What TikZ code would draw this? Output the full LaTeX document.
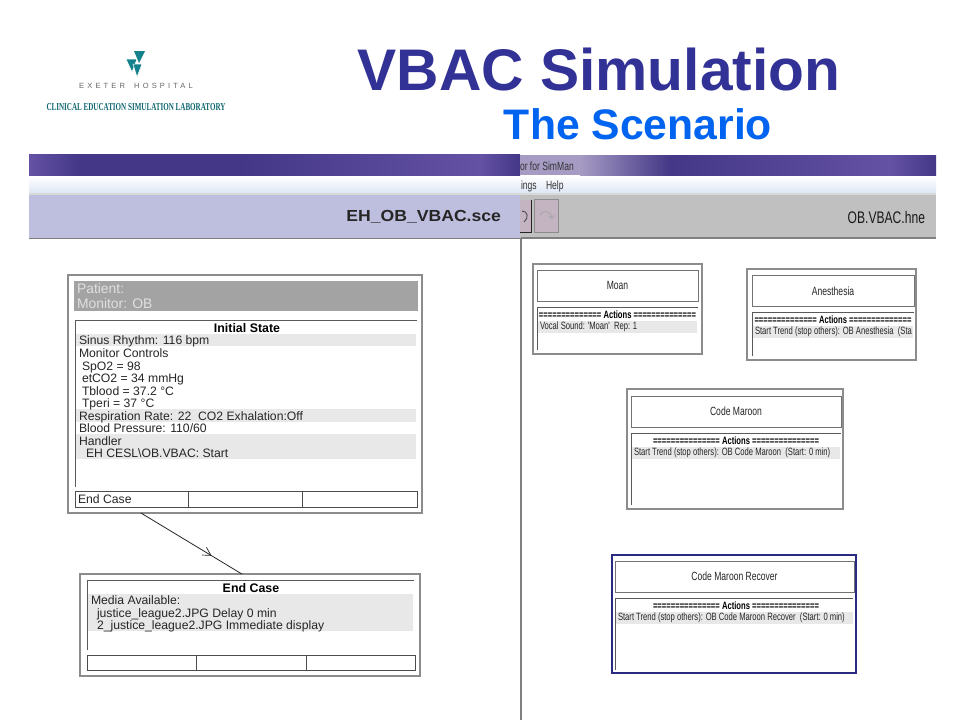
\documentclass[tikz,border=0pt]{standalone}
\usepackage{fontspec}
\usepackage{xcolor}
\usetikzlibrary{calc,arrows.meta,decorations.markings}
\setmainfont{Liberation Sans}
\newfontfamily\narrowfont[FakeStretch=0.72]{Liberation Sans}
\newfontfamily\widefont[FakeStretch=1.1]{Liberation Sans}
\newfontfamily\labfont[FakeStretch=0.667]{Liberation Serif}
\definecolor{titleblue}{RGB}{50,50,150}
\definecolor{subblue}{RGB}{0,100,240}
\definecolor{logoteal}{RGB}{20,130,140}
\definecolor{barpurple}{RGB}{68,55,135}
\definecolor{barmid}{RGB}{100,82,165}
\definecolor{barlight}{RGB}{165,155,195}
\definecolor{lavender}{RGB}{190,190,222}
\definecolor{toolgray}{RGB}{192,192,192}
\definecolor{toolpink}{RGB}{196,180,194}
\definecolor{menublue}{RGB}{222,230,245}
\definecolor{framegray}{RGB}{140,140,140}
\definecolor{bandgray}{RGB}{232,232,232}

\begin{document}
\begin{tikzpicture}[x=1pt,y=-1pt]
    \tikzstyle{every node}=[inner sep=0pt,outer sep=0pt]
    \tikzstyle{outerbox}=[draw=framegray,line width=1.3pt,fill=white]
    \tikzstyle{cellbox}=[draw=black!70,line width=0.9pt]
    \tikzstyle{rowtext}=[anchor=west,text height=10pt,text depth=2pt,font={\fontsize{12.2}{13}\selectfont},text=black!85]
    \tikzstyle{headtext}=[font={\fontsize{12.4}{13}\selectfont\bfseries}]
    \tikzstyle{actiontext}=[anchor=west,font={\narrowfont\fontsize{10.6}{12}\selectfont},text=black!85]
    \tikzstyle{actionhead}=[font={\narrowfont\fontsize{10.6}{12}\selectfont\bfseries}]
    \tikzstyle{listedge}=[draw=black!65,line width=1pt]
    \tikzstyle{band}=[fill=bandgray]
    \tikzstyle{wintext}=[anchor=west,font={\narrowfont\fontsize{11.9}{13}\selectfont},text=black!80]

    \useasboundingbox (0,0) rectangle (960,720);
    \fill[white] (0,0) rectangle (960,720);

    % logo and titles
    \fill[logoteal] (134,51) -- (145,51) -- (139,63) -- cycle;
    \fill[logoteal,draw=white,line width=0.5pt] (126,59) -- (137,59) -- (132,72) -- cycle;
    \fill[logoteal,draw=white,line width=0.5pt] (133,64) -- (142,64) -- (137,77) -- cycle;
    \node[text=black!60,font={\fontsize{7.5}{8}\selectfont\addfontfeature{LetterSpace=42}}] (hospital) at (136,86) {EXETER\hspace{4pt} HOSPITAL};
    \node[text=logoteal!80!black,font={\labfont\fontsize{10.6}{11}\selectfont\bfseries}] (lab) at (136,107.5) {CLINICAL EDUCATION SIMULATION LABORATORY};
    \node[text=titleblue,font={\fontsize{58.7}{60}\selectfont\bfseries}] (title) at (599,70) {VBAC Simulation};
    \node[text=subblue,font={\fontsize{42.7}{44}\selectfont\bfseries}] (subtitle) at (638,124) {The Scenario};

    % window bars
    \shade[left color=barmid,right color=barpurple] (29,154) rectangle (80,175);
    \shade[left color=barpurple,right color=barpurple] (80,154) rectangle (240,175);
    \shade[left color=barpurple,right color=barmid] (240,154) rectangle (480,175);
    \shade[left color=barmid,right color=barpurple] (480,154) rectangle (520,175);
    \fill[barlight] (520,155) rectangle (580,175);
    \shade[left color=barlight,right color=barpurple] (580,155) rectangle (670,175);
    \shade[left color=barpurple,right color=barmid] (670,155) rectangle (890,175);
    \shade[left color=barmid,right color=barpurple] (890,155) rectangle (936,175);
    \shade[top color=white,bottom color=menublue] (29,176) rectangle (936,193);
    \fill[black!15] (29,193) rectangle (936,195);
    \fill[toolgray] (520,195) rectangle (936,238);
    \fill[lavender] (29,195) rectangle (520,238);
    \draw[black!50,line width=1.2pt] (29,238.5) -- (520,238.5);
    \draw[black!50,line width=1.2pt] (521,238) -- (936,238);
    \draw[black!50,line width=1.2pt] (521,238) -- (521,720);
    \node[wintext] (wintitle) at (520,166) {or for SimMan};
    \node[wintext] (menusettings) at (521,186) {ings};
    \node[wintext] (menuhelp) at (546,186) {Help};
    \node[font={\widefont\fontsize{16}{17}\selectfont\bfseries},anchor=east,text=black!85] (scefile) at (501,217) {EH\_OB\_VBAC.sce};
    \node[font={\narrowfont\fontsize{16.8}{18}\selectfont},anchor=east,text=black!90] (hnefile) at (925,217) {OB.VBAC.hne};
    \node[fill=toolpink,minimum width=11pt,minimum height=33pt,anchor=west] (undobtn) at (520,216) {};
    \draw[black!85,line width=1pt] (undobtn.north east) -- (undobtn.south east) -- (undobtn.south west);
    \draw[black!75,line width=0.8pt] (522,211) .. controls (528,211) and (529,218) .. (524,222);
    \node[draw=black!45,fill=toolpink,minimum width=24pt,minimum height=33pt] (redobtn) at (546,216) {};
    \draw[black!35,line width=0.8pt,-{Straight Barb[length=3pt]}] (540,215) .. controls (544,209) and (551,211) .. (552,219);

    % scenario boxes
    \node[outerbox,minimum width=354pt,minimum height=238pt] (initial) at (245,394) {};
    \fill[black!36] (74,281) rectangle (418,311);
    \node[rowtext,text=black!12,font={\fontsize{13.9}{15}\selectfont}] (patient) at (77,289) {Patient:};
    \node[rowtext,text=black!12,font={\fontsize{13.9}{15}\selectfont}] (monitor) at (77,304) {Monitor: OB};
    \fill[band] (76,334) rectangle (416,346);
    \fill[band] (76,409) rectangle (416,422);
    \fill[band] (76,434) rectangle (416,459);
    \draw[listedge] (75,487) -- (75,320) -- (417,320);
    \node[headtext] (initialhead) at (247,328) {Initial State};
    \foreach \rowname/\rowy/\rowx/\rowlabel in {
        sinus/340/79/{Sinus Rhythm: 116 bpm},
        controls/353/79/{Monitor Controls},
        spo/366/82/{SpO2 = 98},
        etco/378.5/82/{etCO2 = 34 mmHg},
        tblood/391/82/{Tblood = 37.2 °C},
        tperi/403.5/82/{Tperi = 37 °C},
        resp/416/79/{Respiration Rate: 22~ CO2 Exhalation:Off},
        bp/428.5/79/{Blood Pressure: 110/60},
        handler/441/79/{Handler},
        start/453.5/86/{EH CESL\textbackslash OB.VBAC: Start}
    }{
        \node[rowtext] (\rowname) at (\rowx,\rowy) {\rowlabel};
    }
    \node[cellbox,minimum width=342pt,minimum height=16pt] (initialfoot) at (246,499) {};
    \draw[cellbox] (188,491) -- (188,507) (302,491) -- (302,507);
    \node[rowtext] (endcaselink) at (78,499) {End Case};

    \node[outerbox,minimum width=340pt,minimum height=102pt] (endcase) at (250,625) {};
    \fill[band] (88,594) rectangle (413,631);
    \draw[listedge] (87,650) -- (87,580) -- (414,580);
    \node[headtext] (endhead) at (251,588) {End Case};
    \node[rowtext] (media) at (91,600) {Media Available:};
    \node[rowtext] (mediaone) at (97,613) {justice\_league2.JPG Delay 0 min};
    \node[rowtext] (mediatwo) at (97,625) {2\_justice\_league2.JPG Immediate display};
    \node[cellbox,minimum width=328pt,minimum height=15pt] (endfoot) at (251,662.5) {};
    \draw[cellbox] (196,655) -- (196,670) (306,655) -- (306,670);

    % connector
    \draw[black!85,line width=0.8pt,postaction={decorate},decoration={markings,mark=at position 0.70 with {\arrow[line width=0.7pt]{Straight Barb[length=8pt,width=9pt]}}}]
        ($(initial.south west)!0.206!(initial.south east)$) -- ($(endcase.north west)!0.476!(endcase.north east)$);

    % handler boxes
    \foreach \boxname/\cx/\cy/\fw/\fh/\tx/\ty/\tw/\bandy/\toptext/\headlabel/\acttext/\actx in {
        moan/617.5/309/169/90/617.5/285.5/161/327/{Moan}/{============== Actions ==============}/{Vocal Sound: 'Moan'~ Rep: 1}/540,
        anesthesia/831.5/314.5/169/91/833/291/162/332/{Anesthesia}/{============== Actions ==============}/{Start Trend (stop others): OB Anesthesia~ (Sta}/755,
        maroon/735/449/216/120/736/411.5/210/453/{Code Maroon}/{=============== Actions ===============}/{Start Trend (stop others): OB Code Maroon~ (Start: 0 min)}/634
    }{
        \node[outerbox,minimum width=\fw pt,minimum height=\fh pt] (\boxname) at (\cx,\cy) {};
        \node[cellbox,draw=black!55,minimum width=\tw pt,minimum height=31pt,font={\narrowfont\fontsize{11.9}{13}\selectfont},text=black!85] (\boxname title) at (\tx,\ty) {\toptext};
        \fill[band] (\tx-\tw/2,\bandy-6) rectangle (\tx+\tw/2-1,\bandy+6);
        \draw[listedge] (\tx-\tw/2,\cy+\fh/2-4) -- (\tx-\tw/2,\bandy-20) -- (\tx+\tw/2,\bandy-20);
        \node[actionhead] (\boxname head) at (\tx,\bandy-12) {\headlabel};
        \node[actiontext] (\boxname action) at (\actx,\bandy) {\acttext};
    }

    \node[outerbox,draw=titleblue!85!black,line width=1.8pt,minimum width=244pt,minimum height=118pt] (recover) at (734,614) {};
    \node[cellbox,draw=black!55,minimum width=239pt,minimum height=31pt,font={\narrowfont\fontsize{11.9}{13}\selectfont},text=black!85] (recovertitle) at (734.5,576.5) {Code Maroon Recover};
    \fill[band] (615,612) rectangle (853,624);
    \draw[listedge] (615,670) -- (615,598) -- (853,598);
    \node[actionhead] (recoverhead) at (736,606) {=============== Actions ===============};
    \node[actiontext] (recoveraction) at (618,618) {Start Trend (stop others): OB Code Maroon Recover~ (Start: 0 min)};
\end{tikzpicture}
\end{document}
